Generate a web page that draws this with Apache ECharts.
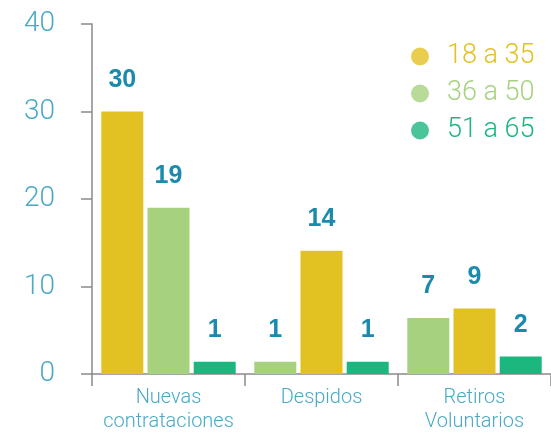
<!DOCTYPE html>
<html>
<head>
<meta charset="utf-8">
<script src="https://cdn.jsdelivr.net/npm/echarts@6/dist/echarts.min.js"></script>
<style>html,body{margin:0;padding:0;background:#fff;}#chart{width:551px;height:437px;}</style>
</head>
<body>
<div id="chart"></div>
<script>
var categories = ['Nuevas\ncontrataciones', 'Despidos', 'Retiros\nVoluntarios'];
var groups = ['18 a 35', '36 a 50', '51 a 65'];
// bar heights as drawn in the picture
var age18to35 = [30, 14.1, 7.5];
var age36to50 = [19, 1.4, 6.4];
var age51to65 = [1.4, 1.4, 2.0];
// printed value labels
var labels18to35 = ['30', '14', '9'];
var labels36to50 = ['19', '1', '7'];
var labels51to65 = ['1', '1', '2'];
// order of the bars inside each category
var barOrder = [
  ['18 a 35', '36 a 50', '51 a 65'],
  ['36 a 50', '18 a 35', '51 a 65'],
  ['36 a 50', '18 a 35', '51 a 65']
];
var yTicks = [0, 10, 20, 30, 40];

var colors = {'18 a 35': '#e2c122', '36 a 50': '#a6d27f', '51 a 65': '#1bb77f'};
var values = {'18 a 35': age18to35, '36 a 50': age36to50, '51 a 65': age51to65};
var labels = {'18 a 35': labels18to35, '36 a 50': labels36to50, '51 a 65': labels51to65};

var series = [];
for (var slot = 0; slot < 3; slot++) {
  var data = categories.map(function (c, ci) {
    var g = barOrder[ci][slot];
    return {
      value: values[g][ci],
      itemStyle: {color: colors[g]},
      label: {formatter: labels[g][ci]}
    };
  });
  series.push({
    type: 'bar',
    name: 'slot' + slot,
    data: data,
    barWidth: 42,
    barGap: '10%',
    label: {
      show: true, position: 'top', distance: 19,
      fontFamily: 'Liberation Sans', fontWeight: 'bold', fontSize: 25, color: '#1a8aad'
    }
  });
}
groups.forEach(function (g) {
  series.push({type: 'scatter', name: g, data: [], itemStyle: {color: colors[g]}});
});

var chart = echarts.init(document.getElementById('chart'));
chart.setOption({
  animation: false,
  backgroundColor: '#ffffff',
  grid: {left: 92, right: 0, top: 24, bottom: 63, containLabel: false},
  legend: {
    data: groups.map(function (g) { return {name: g, textStyle: {color: colors[g]}}; }),
    orient: 'vertical', left: 406, top: 33,
    icon: 'circle', itemWidth: 18, itemHeight: 18, itemGap: 0,
    textStyle: {fontFamily: 'Roboto', fontWeight: 300, fontSize: 27, lineHeight: 37, padding: [0, 0, 0, 13]}
  },
  xAxis: {
    type: 'category', data: categories,
    axisLine: {lineStyle: {color: '#8a8a8a', width: 1.5}},
    axisTick: {show: true, length: 12, interval: 0, lineStyle: {color: '#8a8a8a', width: 1.5}},
    axisLabel: {margin: 12, fontFamily: 'Roboto', fontWeight: 300, fontSize: 20, lineHeight: 24, color: '#4aa9c6', interval: 0}
  },
  yAxis: {
    type: 'value', min: yTicks[0], max: yTicks[yTicks.length - 1], interval: 10,
    axisLine: {show: true, lineStyle: {color: '#8a8a8a', width: 1.5}},
    axisTick: {show: true, length: 11, lineStyle: {color: '#8a8a8a', width: 1.5}},
    splitLine: {show: false},
    axisLabel: {margin: 37, fontFamily: 'Roboto', fontWeight: 300, fontSize: 28, color: '#4aa9c6'}
  },
  series: series
});
</script>
</body>
</html>
